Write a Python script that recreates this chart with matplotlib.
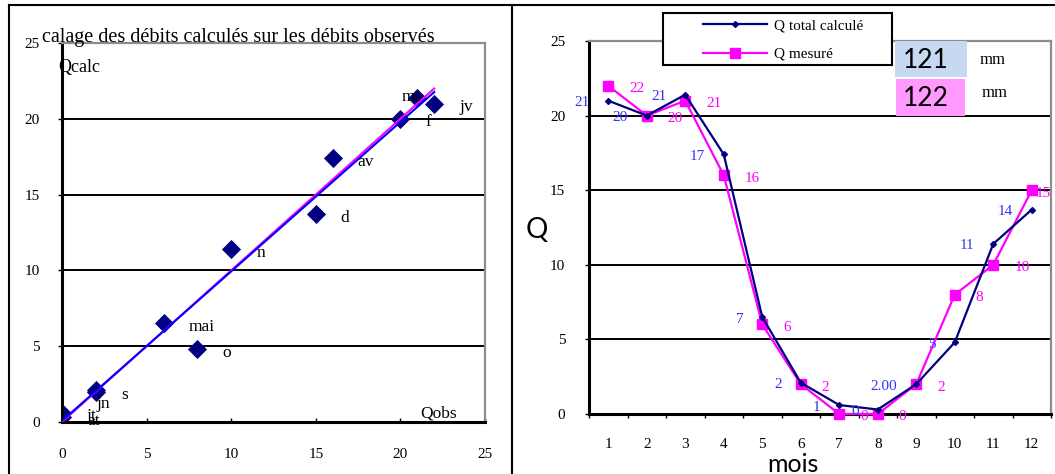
import numpy as np
import matplotlib
matplotlib.use("Agg")
import matplotlib.pyplot as plt
from matplotlib.lines import Line2D
from matplotlib.patches import Rectangle

# ---------------- data ----------------
month_codes = ["jv", "f", "ms", "av", "mai", "jn", "jt", "at", "s", "o", "n", "d"]
months = [1, 2, 3, 4, 5, 6, 7, 8, 9, 10, 11, 12]
q_calc = [21.0, 20.0, 21.4, 17.4, 6.5, 2.1, 0.6, 0.3, 2.0, 4.8, 11.4, 13.7]
q_mes = [22, 20, 21, 16, 6, 2, 0, 0, 2, 8, 10, 15]
calc_labels = ["21", "20", "21", "17", "7", "2", "1", "0", "2.00", "5", "11", "14"]
mes_labels = ["22", "20", "21", "16", "6", "2", "0", "0", "2", "8", "10", "15"]
total_calc = "121"
total_mes = "122"
ticks_025 = [0, 5, 10, 15, 20, 25]

# label offsets (pixels) for scatter labels
scatter_label_off = {"jn": (1, -14), "ms": (-16, 1)}
default_off = (25, -3.5)

W, H = 1055, 474
DPI = 100
fig = plt.figure(figsize=(W / DPI, H / DPI), dpi=DPI)
SERIF = ["Liberation Serif", "DejaVu Serif"]
SANS = ["Lato", "DejaVu Sans"]
plt.rcParams["font.family"] = SERIF

def fx(px):
    return px / W

def fy(py):
    return 1 - py / H

# outer frame lines
for (x0, y0, x1, y1) in [(9, 5, 1055, 5), (9, 5, 9, 474), (512, 5, 512, 474)]:
    fig.add_artist(Line2D([fx(x0), fx(x1)], [fy(y0), fy(y1)], color="black", lw=1.5,
                          transform=fig.transFigure))

# ---------------- left chart ----------------
ax1 = fig.add_axes([fx(62), fy(422), (485 - 62) / W, (422 - 43) / H])
ax1.set_xlim(0, 25)
ax1.set_ylim(0, 25)
ax1.set_xticks(ticks_025)
ax1.set_yticks(ticks_025)
for g in [5, 10, 15, 20]:
    ax1.axhline(g, color="black", lw=1.4, zorder=1)
ax1.scatter(q_mes, q_calc, marker="D", s=95, color="#000080", zorder=2, linewidths=0)
xs = np.array([0, max(q_mes)])
ax1.plot(xs, xs, color="#ff00ff", lw=1.5, zorder=3)
coef = np.polyfit(q_mes, q_calc, 1)
ax1.plot(xs, np.polyval(coef, xs), color="#0000ff", lw=1.5, zorder=4)
for code, xv, yv in zip(month_codes, q_mes, q_calc):
    off = scatter_label_off.get(code, default_off)
    ax1.annotate(code, (xv, yv), xytext=off, textcoords="offset pixels",
                 ha="left", va="center", fontsize=12.5, family=SERIF, zorder=5,
                 annotation_clip=False)
for s in ["left", "bottom"]:
    ax1.spines[s].set_color("black")
    ax1.spines[s].set_linewidth(2.2)
for s in ["top", "right"]:
    ax1.spines[s].set_color("#8c8c8c")
    ax1.spines[s].set_linewidth(1.6)
ax1.tick_params(axis="y", direction="out", length=3, width=1, pad=13, labelsize=11)
ax1.tick_params(axis="x", direction="in", length=3, width=1, pad=19, labelsize=11)
ax1.text(-0.2, 23.4, "Qcalc", fontsize=13, ha="left", va="center", family=SERIF)
ax1.text(21.2, 0.55, "Qobs", fontsize=12.5, ha="left", va="center", family=SERIF)
fig.text(fx(42), fy(42), "calage des débits calculés sur les débits observés",
         fontsize=14.5, ha="left", va="baseline", family=SERIF)

# ---------------- right chart ----------------
ax2 = fig.add_axes([fx(589), fy(414), (1051 - 589) / W, (414 - 41) / H])
ax2.set_xlim(0.5, 12.5)
ax2.set_ylim(0, 25)
ax2.set_yticks(ticks_025)
ax2.set_xticks(np.arange(0.5, 13, 1))
ax2.set_xticklabels([])
ax2.set_xticks(months, minor=True)
ax2.set_xticklabels([str(m) for m in months], minor=True)
ax2.tick_params(axis="x", which="major", direction="out", length=3, width=1)
ax2.tick_params(axis="x", which="minor", length=0, pad=17, labelsize=11)
ax2.tick_params(axis="y", direction="out", length=3, width=1, pad=14, labelsize=11)
for g in [5, 10, 15, 20]:
    ax2.axhline(g, color="black", lw=1.4, zorder=1)
l_calc, = ax2.plot(months, q_calc, color="#000080", lw=1.6, marker="D", ms=3,
                   zorder=4, label="Q total calculé", clip_on=False)
l_mes, = ax2.plot(months, q_mes, color="#ff00ff", lw=1.6, marker="s", ms=6.5,
                  zorder=3, label="Q mesuré", clip_on=False)
for i, (m, v, lab) in enumerate(zip(months, q_calc, calc_labels)):
    ax2.annotate(lab, (m, v), xytext=(-19, -2), textcoords="offset pixels",
                 ha="right", va="center", fontsize=11, color="#3333ff", family=SERIF,
                 zorder=6, annotation_clip=False)
for i, (m, v, lab) in enumerate(zip(months, q_mes, mes_labels)):
    dx = 4 if i == len(months) - 1 else 21
    ax2.annotate(lab, (m, v), xytext=(dx, -3), textcoords="offset pixels",
                 ha="left", va="center", fontsize=11, color="#ff00ff", family=SERIF,
                 zorder=6, annotation_clip=False)
for s in ["left", "bottom"]:
    ax2.spines[s].set_color("black")
    ax2.spines[s].set_linewidth(2.2)
for s in ["top", "right"]:
    ax2.spines[s].set_color("#8c8c8c")
    ax2.spines[s].set_linewidth(1.6)

fig.text(fx(537), fy(230), "Q", fontsize=20, ha="center", va="center", family=SANS)
fig.text(fx(793), fy(464), "mois", fontsize=18, ha="center", va="center", family=SANS)

# legend
fig.add_artist(Rectangle((fx(663), fy(65)), (892 - 663) / W, (65 - 13) / H,
                         transform=fig.transFigure, fill=False, edgecolor="black",
                         lw=1.5, zorder=10))
fig.add_artist(Rectangle((fx(663), fy(65)), (892 - 663) / W, (65 - 13) / H,
                         transform=fig.transFigure, facecolor="white", edgecolor="none",
                         zorder=8))
leg = fig.legend(handles=[l_calc, l_mes], loc="upper left",
                 bbox_to_anchor=(fx(703), fy(19)), frameon=False, borderpad=0,
                 borderaxespad=0, handlelength=4.2, handletextpad=0.45,
                 labelspacing=0.95, prop={"family": SERIF, "size": 11})
leg.set_zorder(11)

# totals boxes
fig.add_artist(Rectangle((fx(895), fy(77)), (967 - 895) / W, (77 - 41) / H,
                         transform=fig.transFigure, facecolor="#c6d9f1", edgecolor="none",
                         zorder=8))
fig.add_artist(Rectangle((fx(896), fy(116)), (965 - 896) / W, (116 - 79) / H,
                         transform=fig.transFigure, facecolor="#ff99ff", edgecolor="none",
                         zorder=8))
fig.text(fx(926), fy(60), total_calc, fontsize=19, ha="center", va="center",
         family=SANS, zorder=9)
fig.text(fx(926), fy(98), total_mes, fontsize=19, ha="center", va="center",
         family=SANS, zorder=9)
fig.text(fx(993), fy(60), "mm", fontsize=12, ha="center", va="center", family=SERIF)
fig.text(fx(995), fy(93), "mm", fontsize=12, ha="center", va="center", family=SERIF)

fig.savefig("out.png", dpi=DPI)
